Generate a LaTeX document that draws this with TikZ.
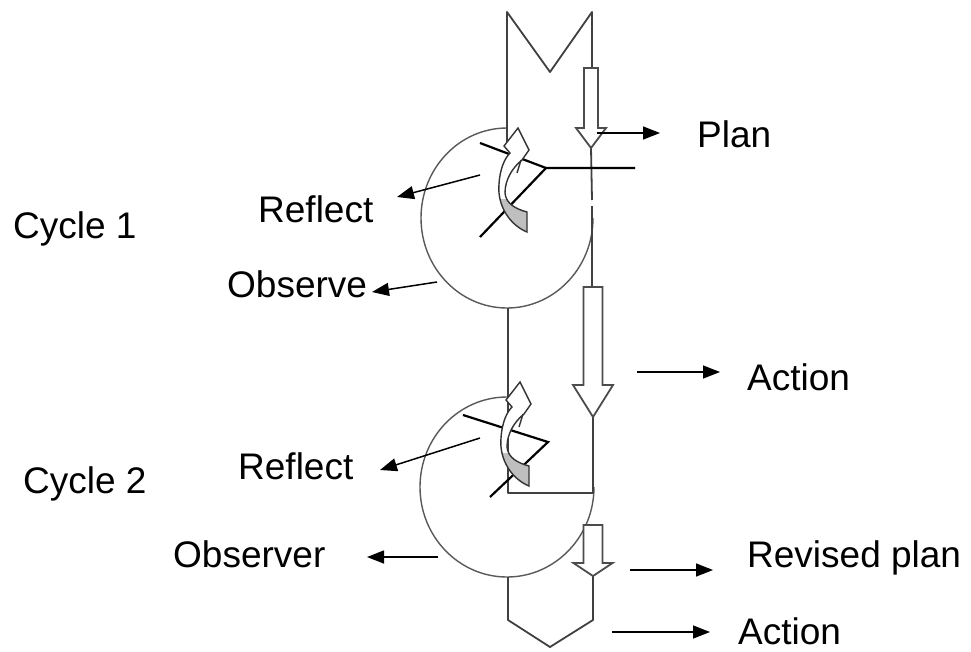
\documentclass[tikz,border=0pt]{standalone}
\usepackage{fontspec}
\setmainfont{Liberation Sans}
\usetikzlibrary{arrows.meta}
\tikzset{
  band/.style={line width=1.8pt, draw=black!75, line join=round},
  ring/.style={line width=1.4pt, draw=black!65},
  cross/.style={line width=2.2pt, draw=black},
  hollow/.style={line width=1.8pt, draw=black!70, fill=white},
  twist/.style={line width=1.4pt, draw=black!80},
  twistshape/.style={insert path={(527,232) .. controls (510,225) and (497,206) .. (499,184)
    .. controls (500,168) and (505,158) .. (510,153) -- (504,146) -- (518,128) -- (529,150) -- (522,160)
    .. controls (512,168) and (505,180) .. (505,193) .. controls (506,204) and (516,209) .. (527,212) -- cycle}},
  pointer/.style={line width=1.5pt, -{Triangle[length=17pt,width=13pt]}},
  word/.style={font=\fontsize{37}{42}\selectfont, anchor=base west, inner sep=0pt},
}
\begin{document}
\begin{tikzpicture}[x=1pt, y=-1pt]
  \useasboundingbox[fill=white] (0,0) rectangle (971,651);
  \draw[ring] (507,128) arc[start angle=90, end angle=360, x radius=86pt, y radius=90pt];
  \draw[ring] (507,397) arc[start angle=90, end angle=360, x radius=87pt, y radius=90pt];
  \draw[band] (507,150) -- (507,12) -- (550,72) -- (592,12) -- (592,68);
  \draw[band] (591,148) -- (592,200);
  \draw[band] (592,206) -- (592,287);
  \draw[band] (508,308) -- (508,493) -- (593,493) -- (593,417);
  \draw[band] (508,577) -- (508,620) -- (550,647) -- (593,620) -- (593,576);
  \draw[cross] (480,143) -- (546,168) -- (635,168) (546,168) -- (480,237);
  \draw[cross] (463,415) -- (548,442) -- (490,497);
  \foreach \dx/\dy in {0/0, 2/254} {
    \begin{scope}[shift={(\dx,\dy)}]
      \fill[white, twistshape];
      \begin{scope}
        \clip (480,199) rectangle (540,240);
        \fill[black!25, twistshape];
      \end{scope}
      \draw[twist, twistshape];
      \draw[twist] (521,160) -- (517,173);
    \end{scope}
  }
  \foreach \cx/\ty/\hy/\tp/\sw/\hw in {591/68/128/148/7/15, 593/287/385/417/9.5/20, 593/525/563/576/9.5/19.5}
    \draw[hollow] (\cx-\sw,\ty) -- (\cx+\sw,\ty) -- (\cx+\sw,\hy) -- (\cx+\hw,\hy) -- (\cx,\tp)
      -- (\cx-\hw,\hy) -- (\cx-\sw,\hy) -- cycle;
  \node[word] (plan) at (697,147) {Plan};
  \node[word] (reflectA) at (258,222) {Reflect};
  \node[word] (cycleA) at (13,238) {Cycle 1};
  \node[word] (observe) at (227,297) {Observe};
  \node[word] (actionA) at (747,390) {Action};
  \node[word] (cycleB) at (23,493) {Cycle 2};
  \node[word] (reflectB) at (238,479) {Reflect};
  \node[word] (observer) at (173,567) {Observer};
  \node[word] (revised) at (747,567) {Revised plan};
  \node[word] (actionB) at (738,644) {Action};
  \coordinate (planFrom) at (597,133);     \coordinate (planTo) at (660,133);
  \coordinate (reflectAFrom) at (480,175); \coordinate (reflectATo) at (397,197);
  \coordinate (observeFrom) at (437,282);  \coordinate (observeTo) at (372,292);
  \coordinate (actionAFrom) at (637,372);  \coordinate (actionATo) at (720,372);
  \coordinate (reflectBFrom) at (480,438); \coordinate (reflectBTo) at (380,470);
  \coordinate (observerFrom) at (438,557); \coordinate (observerTo) at (367,557);
  \coordinate (revisedFrom) at (630,570);  \coordinate (revisedTo) at (713,570);
  \coordinate (actionBFrom) at (612,632);  \coordinate (actionBTo) at (710,632);
  \foreach \n in {plan, reflectA, observe, actionA, reflectB, observer, revised, actionB}
    \draw[pointer] (\n From) -- (\n To);
\end{tikzpicture}
\end{document}
